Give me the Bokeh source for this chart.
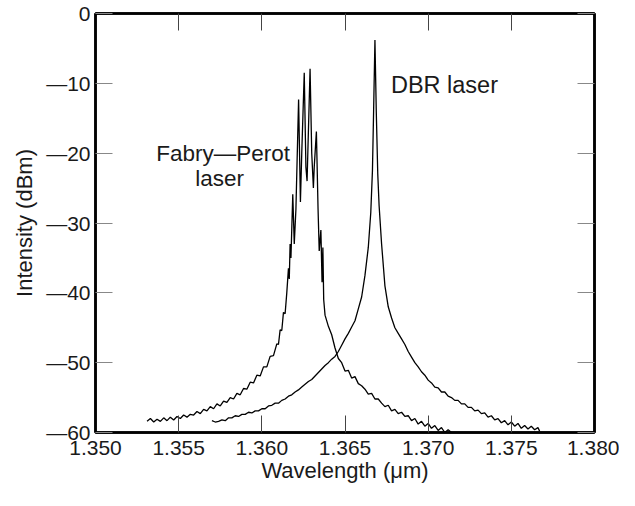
from bokeh.plotting import figure
from bokeh.models import Range1d, FixedTicker, LinearAxis, NumeralTickFormatter
from bokeh.core.properties import value
from bokeh.embed import file_html
from bokeh.resources import INLINE

# ---------------- data ----------------
fp_wavelength = [
    1.3531, 1.3533, 1.3535, 1.3537, 1.3539, 1.3541, 1.3543, 1.3545, 1.3547, 1.3549,
    1.3551, 1.3553, 1.3555, 1.3557, 1.3559, 1.3561, 1.3563, 1.3565, 1.3567, 1.3569,
    1.3571, 1.3573, 1.3575, 1.3577, 1.3579, 1.3581, 1.3583, 1.3585, 1.3587, 1.3589,
    1.3591, 1.3593, 1.3595, 1.3597, 1.3599, 1.3601, 1.3603, 1.3605, 1.3607, 1.3609,
    1.3610, 1.3611, 1.3612, 1.3613, 1.3614, 1.3615, 1.3616, 1.36165, 1.3617, 1.36175,
    1.36186, 1.36195, 1.36205, 1.36221, 1.36232, 1.36240, 1.36255, 1.36265, 1.36272, 1.36290,
    1.36300, 1.36310, 1.36315, 1.36328, 1.36338, 1.36345, 1.36355, 1.36362, 1.36367, 1.36372,
    1.3638, 1.3640, 1.3642, 1.3644, 1.3646, 1.3648, 1.3650, 1.3652, 1.3654, 1.3656,
    1.3658, 1.3660, 1.3662, 1.3664, 1.3666, 1.3668, 1.3670, 1.3672, 1.3674, 1.3676,
    1.3678, 1.3680, 1.3682, 1.3684, 1.3686, 1.3688, 1.3690, 1.3692, 1.3694, 1.3696,
    1.3698, 1.3700, 1.3702, 1.3704, 1.3706, 1.3708, 1.3710, 1.3712, 1.3714,
]
fp_intensity = [
    -58.4, -58.0, -58.5, -58.1, -58.4, -57.9, -58.3, -57.8, -58.2, -57.7,
    -58.0, -57.5, -57.8, -57.4, -57.5, -57.0, -57.3, -56.7, -56.9, -56.3,
    -56.6, -55.9, -56.2, -55.5, -55.7, -55.0, -55.2, -54.4, -54.6, -53.7,
    -53.8, -52.8, -52.9, -51.8, -51.9, -50.6, -50.6, -49.1, -49.0, -47.3,
    -47.4, -45.3, -45.4, -42.8, -43.0, -40.0, -36.5, -38.0, -33.0, -35.0,
    -25.9, -33.0, -28.0, -12.3, -27.0, -20.0, -8.5, -22.0, -24.0, -7.9,
    -20.0, -25.0, -22.0, -16.9, -28.0, -34.0, -31.0, -38.5, -33.5, -41.0,
    -43.2, -44.8, -46.0, -47.9, -49.4, -50.0, -51.2, -51.1, -52.2, -52.0,
    -53.0, -53.3, -53.8, -54.5, -54.4, -55.2, -55.2, -55.8, -56.3, -56.1,
    -56.9, -56.7, -57.3, -57.1, -57.7, -57.6, -58.3, -58.0, -58.8, -58.4,
    -59.1, -58.7, -59.4, -59.0, -59.7, -59.3, -60.0, -59.6, -60.0,
]

dbr_wavelength = [
    1.3570, 1.3572, 1.3574, 1.3576, 1.3578, 1.3580, 1.3582, 1.3584, 1.3586, 1.3588,
    1.3590, 1.3592, 1.3594, 1.3596, 1.3598, 1.3600, 1.3602, 1.3604, 1.3606, 1.3608,
    1.3610, 1.3612, 1.3614, 1.3616, 1.3618, 1.3620, 1.3622, 1.3624, 1.3626, 1.3628,
    1.3630, 1.3632, 1.3634, 1.3636, 1.3638, 1.3640, 1.3642, 1.3644, 1.3646, 1.3648,
    1.3650, 1.3652, 1.3654, 1.3656, 1.3658, 1.3660, 1.3662, 1.3664, 1.36655, 1.36665,
    1.36672, 1.36680, 1.36688, 1.36697, 1.36705, 1.3672, 1.3674, 1.3676, 1.3678, 1.3680,
    1.3682, 1.3684, 1.3686, 1.3688, 1.3690, 1.3692, 1.3694, 1.3696, 1.3698, 1.3700,
    1.3702, 1.3704, 1.3706, 1.3708, 1.3710, 1.3712, 1.3714, 1.3716, 1.3718, 1.3720,
    1.3722, 1.3724, 1.3726, 1.3728, 1.3730, 1.3732, 1.3734, 1.3736, 1.3738, 1.3740,
    1.3742, 1.3744, 1.3746, 1.3748, 1.3750, 1.3752, 1.3754, 1.3756, 1.3758, 1.3760,
    1.3762, 1.3764, 1.3766, 1.3767,
]
dbr_intensity = [
    -58.3, -58.5, -58.4, -58.2, -58.3, -57.9, -57.9, -57.6, -57.7, -57.4,
    -57.4, -57.1, -57.2, -56.9, -56.9, -56.6, -56.6, -56.2, -56.1, -55.8,
    -55.8, -55.4, -55.2, -54.8, -54.6, -54.2, -53.9, -53.5, -53.1, -52.7,
    -52.4, -51.9, -51.4, -50.9, -50.4, -50.0, -49.5, -49.1, -48.4, -47.5,
    -46.6, -45.8, -44.9, -44.0, -42.3, -40.6, -37.5, -33.5, -28.5, -22.5,
    -14.0, -3.8, -14.0, -23.0, -27.5, -33.0, -39.0, -42.0, -43.6, -45.0,
    -45.8, -46.6, -47.4, -48.4, -49.2, -50.0, -50.6, -51.3, -51.8, -52.5,
    -52.9, -53.5, -53.6, -54.2, -54.2, -54.8, -55.0, -55.4, -55.4, -55.9,
    -55.9, -56.4, -56.4, -56.9, -56.8, -57.3, -57.2, -57.8, -57.6, -58.2,
    -58.0, -58.6, -58.3, -58.9, -58.5, -59.1, -58.7, -59.4, -59.0, -59.5,
    -59.1, -59.6, -59.3, -59.8,
]

x_ticks = [1.350, 1.355, 1.360, 1.365, 1.370, 1.375, 1.380]
y_ticks = [0, -10, -20, -30, -40, -50, -60]
y_tick_labels = ["0", "\u201410", "\u201420", "\u201430", "\u201440", "\u201450", "\u201460"]

x_title = "Wavelength (\u03bcm)"
y_title = "Intensity (dBm)"

fp_label_text = ["Fabry\u2014Perot", "laser"]
fp_label_x = [1.35365, 1.35600]
fp_label_y = [-20.1, -23.6]
dbr_label_text = ["DBR laser"]
dbr_label_x = [1.36776]
dbr_label_y = [-10.2]

# ---------------- figure ----------------
FONT = "Liberation Sans"
TXT = "#1a1a1a"

p = figure(width=619, height=490, output_backend="svg", toolbar_location=None,
           x_range=Range1d(1.350, 1.380), y_range=Range1d(-60, 0),
           min_border_left=95, min_border_right=25, min_border_top=13, min_border_bottom=58,
           x_axis_label=x_title, y_axis_label=y_title)

p.grid.visible = False
p.outline_line_color = "black"
p.outline_line_width = 2.5

p.line(fp_wavelength, fp_intensity, line_color="black", line_width=1.3)
p.line(dbr_wavelength, dbr_intensity, line_color="black", line_width=1.3)

p.text(x=fp_label_x, y=fp_label_y, text=fp_label_text,
       text_font=value(FONT), text_font_size="22.5px", text_color=TXT,
       text_baseline="middle", text_align="left")
p.text(x=dbr_label_x, y=dbr_label_y, text=dbr_label_text,
       text_font=value(FONT), text_font_size="23.5px", text_color=TXT,
       text_baseline="middle", text_align="left")

# bottom axis
xa = p.xaxis[0]
xa.ticker = FixedTicker(ticks=x_ticks)
xa.formatter = NumeralTickFormatter(format="0.000")
# left axis
ya = p.yaxis[0]
ya.ticker = FixedTicker(ticks=y_ticks)
ya.major_label_overrides = {t: s for t, s in zip(y_ticks, y_tick_labels)}

for ax in (xa, ya):
    ax.major_tick_in = 17
    ax.major_tick_out = 0
    ax.minor_tick_line_color = None
    ax.axis_line_color = "black"
    ax.axis_line_width = 2.5
    ax.major_label_text_font = FONT
    ax.major_label_text_font_size = "21px"
    ax.major_label_text_color = TXT
    ax.axis_label_text_font = FONT
    ax.axis_label_text_font_size = "22px"
    ax.axis_label_text_font_style = "normal"
    ax.axis_label_text_color = TXT

xa.major_tick_line_color = "#444444"
ya.major_tick_line_color = "#888888"
xa.major_label_standoff = 8
xa.axis_label_standoff = 0
ya.major_label_standoff = 5
ya.axis_label_standoff = 6

# top and right axes: inward ticks, labels not drawn
top = LinearAxis(ticker=FixedTicker(ticks=x_ticks), major_label_text_font_size="1px",
                 major_label_text_color=None, major_label_standoff=0,
                 major_tick_in=17, major_tick_out=0, minor_tick_line_color=None,
                 major_tick_line_color="#444444", axis_line_color="black", axis_line_width=2.5)
right = LinearAxis(ticker=FixedTicker(ticks=y_ticks), major_label_text_font_size="1px",
                   major_label_text_color=None, major_label_standoff=0,
                   major_tick_in=17, major_tick_out=0, minor_tick_line_color=None,
                   major_tick_line_color="#888888", axis_line_color="black", axis_line_width=2.5)
p.add_layout(top, "above")
p.add_layout(right, "right")

open("out.html", "w").write(file_html(p, INLINE))
